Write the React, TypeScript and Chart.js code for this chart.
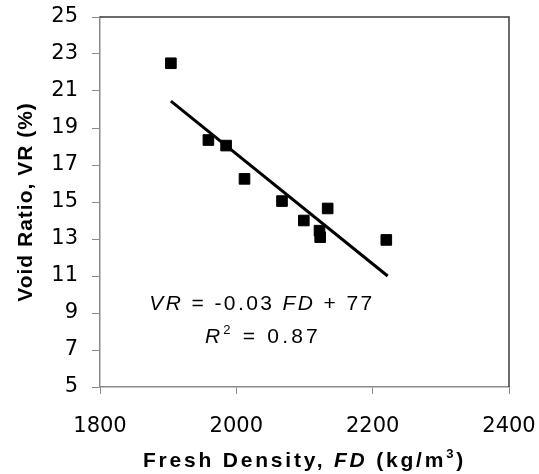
import { useEffect, useRef } from 'react';
import { Chart, registerables } from 'chart.js';

Chart.register(...registerables);

// Measured data (Fresh Density kg/m3 vs Void Ratio %)
const freshDensity = [1904, 1959, 1985, 2012, 2067, 2099, 2122, 2123, 2134, 2220];
const voidRatio = [22.5, 18.35, 18.05, 16.25, 15.05, 14.0, 13.45, 13.1, 14.65, 12.95];

// Linear trend line end points
const trendDensity = [1904, 2222];
const trendVoidRatio = [20.45, 11.0];

// Axis ticks
const xTicks = [1800, 2000, 2200, 2400];
const yTicks = [5, 7, 9, 11, 13, 15, 17, 19, 21, 23, 25];

type Run = { text: string; font: string; dy?: number };

function drawRuns(ctx: CanvasRenderingContext2D, runs: Run[], cx: number, baseline: number, spacing: number) {
  ctx.save();
  (ctx as any).letterSpacing = spacing + 'px';
  ctx.textBaseline = 'alphabetic';
  ctx.textAlign = 'left';
  ctx.fillStyle = '#000';
  let total = 0;
  const widths = runs.map((r) => {
    ctx.font = r.font;
    const w = ctx.measureText(r.text).width;
    total += w;
    return w;
  });
  let x = cx - total / 2;
  runs.forEach((r, i) => {
    ctx.font = r.font;
    ctx.fillText(r.text, x, baseline + (r.dy || 0));
    x += widths[i];
  });
  ctx.restore();
}

const textPlugin = {
  id: 'customText',
  afterDraw(chart: any) {
    const ctx: CanvasRenderingContext2D = chart.ctx;
    const area = chart.chartArea;
    // frame top & right
    ctx.save();
    ctx.strokeStyle = '#3a3a3a';
    ctx.lineWidth = 1.5;
    ctx.beginPath();
    ctx.moveTo(area.left, area.top);
    ctx.lineTo(area.right, area.top);
    ctx.lineTo(area.right, area.bottom);
    ctx.stroke();
    ctx.restore();

    const fam = '"Liberation Sans", Arial, sans-serif';
    // Equation annotation
    drawRuns(
      ctx,
      [
        { text: 'VR', font: `italic 21px ${fam}` },
        { text: ' = -0.03 ', font: `21px ${fam}` },
        { text: 'FD', font: `italic 21px ${fam}` },
        { text: ' + 77', font: `21px ${fam}` },
      ],
      262,
      310,
      2.4
    );
    drawRuns(
      ctx,
      [
        { text: 'R', font: `italic 21px ${fam}` },
        { text: '2', font: `13px ${fam}`, dy: -9 },
        { text: ' = 0.87', font: `21px ${fam}` },
      ],
      263,
      343,
      3.2
    );

    // X axis title
    drawRuns(
      ctx,
      [
        { text: 'Fresh Density, ', font: `bold 21px ${fam}` },
        { text: 'FD', font: `italic bold 21px ${fam}` },
        { text: ' (kg/m', font: `bold 21px ${fam}` },
        { text: '3', font: `bold 13px ${fam}`, dy: -9 },
        { text: ')', font: `bold 21px ${fam}` },
      ],
      (area.left + area.right) / 2,
      467,
      2.8
    );

    // Y axis title
    ctx.save();
    ctx.translate(32, (area.top + area.bottom) / 2);
    ctx.rotate(-Math.PI / 2);
    drawRuns(ctx, [{ text: 'Void Ratio, VR (%)', font: `bold 21px ${fam}` }], 0, 0, 1);
    ctx.restore();
  },
};

export default function App() {
  const canvasRef = useRef<HTMLCanvasElement | null>(null);

  useEffect(() => {
    document.body.style.margin = '0';
    const canvas = canvasRef.current;
    if (!canvas) return;
    const tickFont = { family: '"DejaVu Sans", sans-serif', size: 21 };
    const chart = new Chart(canvas, {
      type: 'scatter',
      data: {
        datasets: [
          {
            type: 'line',
            label: 'Trend',
            data: trendDensity.map((x, i) => ({ x, y: trendVoidRatio[i] })),
            borderColor: '#000',
            borderWidth: 3,
            pointRadius: 0,
            showLine: true,
            fill: false,
          } as any,
          {
            label: 'VR',
            data: freshDensity.map((x, i) => ({ x, y: voidRatio[i] })),
            pointStyle: 'rect',
            pointRadius: 7.5,
            backgroundColor: '#000',
            borderColor: '#000',
            borderWidth: 1,
          },
        ],
      },
      options: {
        animation: false,
        responsive: true,
        maintainAspectRatio: false,
        layout: { padding: { left: 0, top: 17, right: 30, bottom: 0 } },
        plugins: {
          legend: { display: false },
          tooltip: { enabled: false },
        },
        scales: {
          x: {
            type: 'linear',
            min: xTicks[0],
            max: xTicks[xTicks.length - 1],
            afterBuildTicks: (scale: any) => {
              scale.ticks = xTicks.map((v) => ({ value: v }));
            },
            afterFit: (scale: any) => {
              scale.height = 87;
              scale.paddingLeft = 0;
              scale.paddingRight = 0;
              scale.paddingTop = 0;
              scale.paddingBottom = 0;
            },
            grid: { drawOnChartArea: false, drawTicks: true, tickLength: 7, color: '#8a8a8a' },
            border: { color: '#8a8a8a', width: 1.5 },
            ticks: {
              color: '#000',
              font: tickFont,
              padding: 20,
              maxRotation: 0,
              callback: (v: any) => String(v),
            },
          },
          y: {
            type: 'linear',
            min: yTicks[0],
            max: yTicks[yTicks.length - 1],
            afterBuildTicks: (scale: any) => {
              scale.ticks = yTicks.map((v) => ({ value: v }));
            },
            afterFit: (scale: any) => {
              scale.width = 100;
              scale.paddingLeft = 0;
              scale.paddingRight = 0;
              scale.paddingTop = 0;
              scale.paddingBottom = 0;
            },
            grid: { drawOnChartArea: false, drawTicks: true, tickLength: 8, color: '#8a8a8a' },
            border: { color: '#8a8a8a', width: 1.5 },
            ticks: { color: '#000', font: tickFont, padding: 14, callback: (v: any) => String(v) },
          },
        },
      },
      plugins: [textPlugin],
    });
    return () => chart.destroy();
  }, []);

  return (
    <div style={{ width: 539, height: 474, position: 'relative' }}>
      <canvas ref={canvasRef} />
    </div>
  );
}
